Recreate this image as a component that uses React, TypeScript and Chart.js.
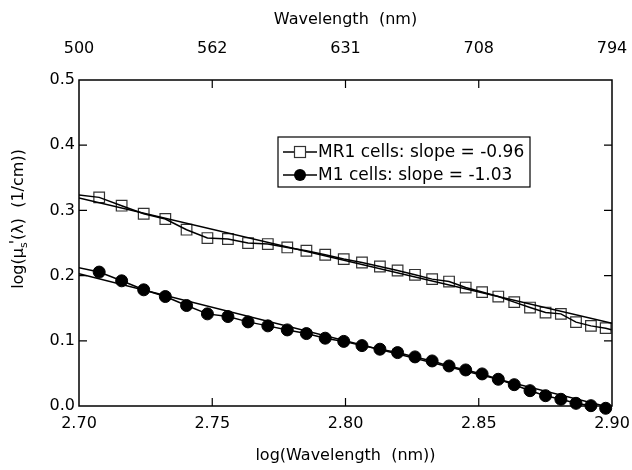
import React, { useEffect, useRef } from 'react';
import { Chart, registerables } from 'chart.js';

Chart.register(...registerables);

// Wavelengths (nm) of the measured spectra; the first and last entries are curve ends only (no marker)
const wavelengthsNm = [500, 510, 520, 530, 540, 550, 560, 570, 580, 590, 600, 610, 620, 630, 640, 650, 660, 670, 680, 690, 700, 710, 720, 730, 740, 750, 760, 770, 780, 790, 794];

// log(mu_s'(lambda)) for MR1 cells
const mr1Values = [0.324, 0.320, 0.3072, 0.2949, 0.2868, 0.2704, 0.2576, 0.2561, 0.2499, 0.2484, 0.2432, 0.2381, 0.2320, 0.2253, 0.2201, 0.2140, 0.2078, 0.2012, 0.1946, 0.1909, 0.1817, 0.1747, 0.1679, 0.1593, 0.1510, 0.1433, 0.1413, 0.1286, 0.1229, 0.1194, 0.117];

// log(mu_s'(lambda)) for M1 cells
const m1Values = [0.213, 0.2054, 0.1920, 0.1782, 0.1679, 0.1541, 0.1413, 0.1372, 0.1290, 0.1229, 0.1167, 0.1111, 0.1040, 0.0991, 0.0926, 0.0871, 0.0819, 0.0753, 0.0691, 0.0614, 0.0553, 0.0492, 0.0410, 0.0327, 0.0235, 0.0158, 0.0103, 0.0041, 0.0005, -0.0035, -0.005];

// Linear fits
const seriesNames = ['MR1 cells', 'M1 cells'];
const fitSlopes = [-0.96, -1.03];
const fitAtStart = [0.319, 0.203];
const fitRange = [2.70, 2.90];

// Axis ticks
const topTickLabels = ['500', '562', '631', '708', '794'];
const xRange = [2.70, 2.90];
const yRange = [0.0, 0.5];

const FONT = '"DejaVu Sans", "Liberation Sans", sans-serif';

const toPoints = (vals: number[]) => vals.map((v, i) => ({ x: Math.log10(wavelengthsNm[i]), y: v }));
const markerPoints = (vals: number[]) => toPoints(vals).slice(1, -1);
const fitPoints = (k: number) => fitRange.map((x) => ({ x, y: fitAtStart[k] + fitSlopes[k] * (x - fitRange[0]) }));

const framePlugin = {
  id: 'frameTicksLegend',
  afterDraw(chart: any) {
    const { ctx, chartArea, scales } = chart;
    const { left, right, top, bottom } = chartArea;
    ctx.save();
    // frame
    ctx.strokeStyle = '#000';
    ctx.lineWidth = 1.5;
    ctx.strokeRect(left, top, right - left, bottom - top);
    // inward ticks
    const tl = 8;
    ctx.lineWidth = 1.2;
    ctx.beginPath();
    scales.x.ticks.forEach((t: any) => {
      const px = scales.x.getPixelForValue(t.value);
      if (Math.abs(px - left) < 2 || Math.abs(px - right) < 2) return;
      ctx.moveTo(px, bottom);
      ctx.lineTo(px, bottom - tl);
      ctx.moveTo(px, top);
      ctx.lineTo(px, top + tl);
    });
    scales.y.ticks.forEach((t: any) => {
      const py = scales.y.getPixelForValue(t.value);
      if (Math.abs(py - top) < 2 || Math.abs(py - bottom) < 2) return;
      ctx.moveTo(left, py);
      ctx.lineTo(left + tl, py);
      ctx.moveTo(right, py);
      ctx.lineTo(right - tl, py);
    });
    ctx.stroke();

    // y-axis title with subscript
    ctx.fillStyle = '#000';
    ctx.textBaseline = 'middle';
    ctx.textAlign = 'left';
    const pieces = [
      { t: 'log(\u03bc', size: 16, dy: 0, dx: 0 },
      { t: 's', size: 11, dy: 5, dx: 0 },
      { t: "'", size: 16, dy: -2, dx: -2 },
      { t: '(\u03bb)  (1/cm))', size: 16, dy: 0, dx: 0 },
    ];
    let total = 0;
    pieces.forEach((p) => {
      ctx.font = `${p.size}px ${FONT}`;
      total += ctx.measureText(p.t).width + p.dx;
    });
    ctx.translate(19, (top + bottom) / 2 - 24);
    ctx.rotate(-Math.PI / 2);
    let cx = -total / 2;
    pieces.forEach((p) => {
      ctx.font = `${p.size}px ${FONT}`;
      cx += p.dx;
      ctx.fillText(p.t, cx, p.dy);
      cx += ctx.measureText(p.t).width;
    });
    ctx.setTransform(1, 0, 0, 1, 0, 0);

    // legend box
    const bx = left + 199;
    const by = top + 57;
    const bw = 252;
    const bh = 50;
    ctx.fillStyle = '#fff';
    ctx.fillRect(bx, by, bw, bh);
    ctx.strokeStyle = '#000';
    ctx.lineWidth = 1.2;
    ctx.strokeRect(bx, by, bw, bh);
    const rows = [by + 15, by + 38];
    ctx.font = `17px ${FONT}`;
    ctx.textBaseline = 'middle';
    ctx.fillStyle = '#000';
    rows.forEach((ry, k) => {
      ctx.lineWidth = 1.5;
      ctx.strokeStyle = '#000';
      ctx.beginPath();
      ctx.moveTo(bx + 5, ry);
      ctx.lineTo(bx + 39, ry);
      ctx.stroke();
      if (k === 0) {
        ctx.fillStyle = '#fff';
        ctx.fillRect(bx + 22 - 5.5, ry - 5.5, 11, 11);
        ctx.lineWidth = 1.2;
        ctx.strokeStyle = '#333';
        ctx.strokeRect(bx + 22 - 5.5, ry - 5.5, 11, 11);
      } else {
        ctx.fillStyle = '#000';
        ctx.beginPath();
        ctx.arc(bx + 22, ry, 6, 0, Math.PI * 2);
        ctx.fill();
      }
      ctx.fillStyle = '#000';
      ctx.fillText(`${seriesNames[k]}: slope = ${fitSlopes[k].toFixed(2)}`, bx + 40, ry + 1);
    });
    ctx.restore();
  },
};

const noSidePadding = (height: number) => (s: any) => {
  s.height = height;
  s.paddingLeft = 0;
  s.paddingRight = 0;
};

export default function App() {
  const ref = useRef<HTMLCanvasElement>(null);
  useEffect(() => {
    const canvas = ref.current;
    if (!canvas) return;
    const tickFont = { family: FONT, size: 16 };
    const chart = new Chart(canvas, {
      type: 'line',
      data: {
        datasets: [
          {
            label: 'MR1 fit',
            data: fitPoints(0),
            borderColor: '#000',
            borderWidth: 1.5,
            pointRadius: 0,
            fill: false,
          },
          {
            label: 'M1 fit',
            data: fitPoints(1),
            borderColor: '#000',
            borderWidth: 1.5,
            pointRadius: 0,
            fill: false,
          },
          {
            label: 'MR1 curve',
            data: toPoints(mr1Values),
            borderColor: '#000',
            borderWidth: 1.5,
            pointRadius: 0,
            tension: 0,
            fill: false,
          },
          {
            label: 'M1 curve',
            data: toPoints(m1Values),
            borderColor: '#000',
            borderWidth: 1.5,
            pointRadius: 0,
            tension: 0,
            fill: false,
          },
          {
            label: `${seriesNames[0]}: slope = ${fitSlopes[0].toFixed(2)}`,
            data: markerPoints(mr1Values),
            showLine: false,
            pointStyle: 'rect',
            pointRadius: 7.5,
            pointBorderColor: '#333',
            pointBackgroundColor: 'rgba(0,0,0,0)',
            pointBorderWidth: 1.2,
            clip: false,
          } as any,
          {
            label: `${seriesNames[1]}: slope = ${fitSlopes[1].toFixed(2)}`,
            data: markerPoints(m1Values),
            showLine: false,
            pointStyle: 'circle',
            pointRadius: 6,
            pointBorderColor: '#000',
            pointBackgroundColor: '#000',
            pointBorderWidth: 1,
            clip: false,
          } as any,
        ],
      },
      options: {
        animation: false,
        responsive: false,
        events: [],
        layout: { padding: 0 },
        plugins: {
          legend: { display: false },
          tooltip: { enabled: false },
        },
        scales: {
          x: {
            type: 'linear',
            position: 'bottom',
            min: xRange[0],
            max: xRange[1],
            grid: { display: false, drawTicks: false },
            border: { display: false },
            ticks: {
              stepSize: 0.05,
              autoSkip: false,
              maxRotation: 0,
              padding: 8,
              color: '#000',
              font: tickFont,
              callback: (v: any) => Number(v).toFixed(2),
            },
            title: {
              display: true,
              text: 'log(Wavelength  (nm))',
              color: '#000',
              font: tickFont,
              padding: { top: 0, bottom: 5 },
            },
            afterFit: noSidePadding(64),
          },
          x2: {
            type: 'linear',
            position: 'top',
            min: xRange[0],
            max: xRange[1],
            grid: { display: false, drawTicks: false },
            border: { display: false },
            ticks: {
              stepSize: 0.05,
              autoSkip: false,
              maxRotation: 0,
              padding: 22,
              color: '#000',
              font: tickFont,
              callback: (_v: any, i: number) => topTickLabels[i] ?? '',
            },
            title: {
              display: true,
              text: 'Wavelength  (nm)',
              color: '#000',
              font: tickFont,
              padding: { top: 10, bottom: 0 },
            },
            afterFit: noSidePadding(80),
          },
          y: {
            type: 'linear',
            position: 'left',
            min: yRange[0],
            max: yRange[1],
            grid: { display: false, drawTicks: false },
            border: { display: false },
            ticks: {
              stepSize: 0.1,
              padding: 4,
              color: '#000',
              font: tickFont,
              callback: (v: any) => Number(v).toFixed(1),
            },
            afterFit: (s: any) => {
              s.width = 79;
              s.paddingTop = 0;
              s.paddingBottom = 0;
            },
          },
          y2: {
            type: 'linear',
            position: 'right',
            min: yRange[0],
            max: yRange[1],
            grid: { display: false, drawTicks: false },
            border: { display: false },
            ticks: { display: false, stepSize: 0.1 },
            afterFit: (s: any) => {
              s.width = 20;
              s.paddingTop = 0;
              s.paddingBottom = 0;
            },
          },
        },
      } as any,
      plugins: [framePlugin],
    });
    return () => chart.destroy();
  }, []);
  return (
    <div style={{ position: 'absolute', left: 0, top: 0, width: 632, height: 470, background: '#fff' }}>
      <canvas ref={ref} width={632} height={470} style={{ display: 'block', width: 632, height: 470 }} />
    </div>
  );
}
